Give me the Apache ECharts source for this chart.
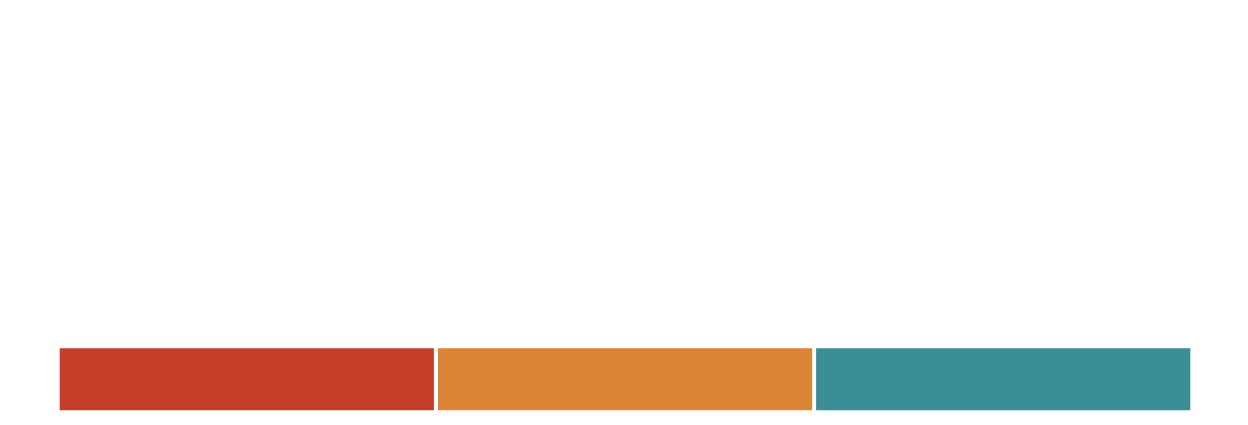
<!DOCTYPE html>
<html>
<head>
<meta charset="utf-8">
<script src="https://cdn.jsdelivr.net/npm/echarts@6/dist/echarts.min.js"></script>
<style>
html,body{margin:0;padding:0;background:#fff;}
#c{width:1248px;height:425px;}
</style>
</head>
<body>
<div id="c"></div>
<script>
const categories = ['total'];
const seriesNames = ['A', 'B', 'C'];
const valuesA = [1];
const valuesB = [1];
const valuesC = [1];
const colors = ['#c43e29', '#dc8537', '#3b8e95'];

const chart = echarts.init(document.getElementById('c'), null, {renderer: 'canvas'});
const allValues = [valuesA, valuesB, valuesC];
chart.setOption({
  animation: false,
  backgroundColor: '#ffffff',
  grid: {left: 57.7, right: 55.7, top: 346.3, bottom: 12.7, containLabel: false},
  xAxis: {type: 'value', min: 0, max: 3, show: false},
  yAxis: {type: 'category', data: categories, show: false},
  series: seriesNames.map((n, i) => ({
    name: n,
    type: 'bar',
    stack: 'all',
    data: allValues[i],
    barWidth: '100%',
    itemStyle: {color: colors[i], borderColor: '#ffffff', borderWidth: 2}
  }))
});
</script>
</body>
</html>
